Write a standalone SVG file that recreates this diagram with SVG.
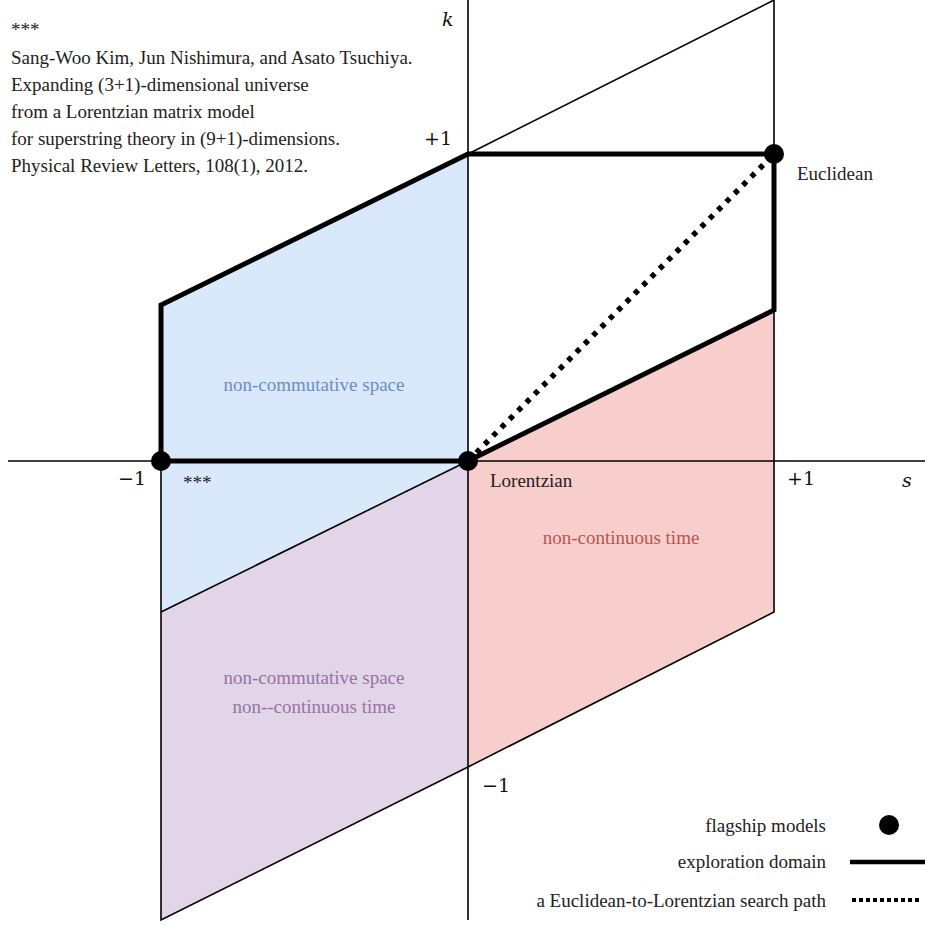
<svg xmlns="http://www.w3.org/2000/svg" width="925" height="925" viewBox="0 0 925 925">
<style>
.t{font-family:"Liberation Serif","Times New Roman",serif;fill:#222;font-size:19px}
.m{font-family:"DejaVu Serif","Liberation Serif",serif;font-size:19px;fill:#111}
.i{font-style:italic}
.thin{fill:none;stroke:#000;stroke-width:1.6}
.thick{fill:none;stroke:#000;stroke-width:5;stroke-linejoin:miter}
.dot{fill:none;stroke:#000;stroke-width:5.5;stroke-dasharray:5 6.8}
.lbl{font-family:"Liberation Serif","Times New Roman",serif;font-size:19px;text-anchor:middle}
</style>
<rect width="925" height="925" fill="#fff"/>
<g id="regions">
<polygon id="blue" points="161,305 468,154 468,461 161,612" fill="#dae8fc"/>
<polygon id="red" points="468,461 774,310 774,612 468,767" fill="#f8cecc"/>
<polygon id="purple" points="161,612 468,461 468,767 161,920" fill="#e1d5e7"/>
</g>
<g id="connectors">
<line class="thin" x1="8" y1="461" x2="925" y2="461"/>
<line class="thin" x1="468" y1="0" x2="468" y2="920"/>
<polyline class="thin" points="468,154 774,0 774,612 468,767"/>
<polyline class="thin" points="161,305 161,920 468,767"/>
<line class="thin" x1="161" y1="612" x2="468" y2="461"/>
<polygon class="thick" points="161,461 161,305 468,154 774,154 774,310 468,461"/>
<line class="dot" x1="468" y1="461" x2="774" y2="154"/>
</g>
<g id="models">
<circle cx="161" cy="461" r="10"/>
<circle cx="468" cy="461" r="10"/>
<circle cx="774" cy="154" r="10"/>
</g>
<g id="labels">
<text class="t" x="11" y="36">***</text>
<text class="t" x="11" y="64">Sang-Woo Kim, Jun Nishimura, and Asato Tsuchiya.</text>
<text class="t" x="11" y="91">Expanding (3+1)-dimensional universe</text>
<text class="t" x="11" y="118">from a Lorentzian matrix model</text>
<text class="t" x="11" y="145">for superstring theory in (9+1)-dimensions.</text>
<text class="t" x="11" y="172">Physical Review Letters, 108(1), 2012.</text>
<text class="m i" x="442" y="26">k</text>
<text class="m" x="424" y="145">+1</text>
<text class="m" x="118" y="485">−1</text>
<text class="m" x="787" y="485">+1</text>
<text class="m i" x="902" y="487">s</text>
<text class="m" x="482" y="792">−1</text>
<text class="t" x="797" y="180">Euclidean</text>
<text class="t" x="490" y="487">Lorentzian</text>
<text class="t" x="183" y="489">***</text>
<text class="lbl" x="314" y="391" fill="#6c8ebf">non-commutative space</text>
<text class="lbl" x="621" y="544" fill="#b85450">non-continuous time</text>
<text class="lbl" x="314" y="684" fill="#9673a6">non-commutative space</text>
<text class="lbl" x="314" y="713" fill="#9673a6">non--continuous time</text>
</g>
<g id="legend">
<text class="t" x="826" y="832" text-anchor="end">flagship models</text>
<circle cx="889" cy="825" r="10"/>
<text class="t" x="826" y="868" text-anchor="end">exploration domain</text>
<line x1="850" y1="862" x2="925" y2="862" stroke="#000" stroke-width="4.5"/>
<text class="t" x="826" y="907" text-anchor="end">a Euclidean-to-Lorentzian search path</text>
<line x1="852" y1="900" x2="922" y2="900" stroke="#000" stroke-width="4" stroke-dasharray="4 3"/>
</g>
</svg>
